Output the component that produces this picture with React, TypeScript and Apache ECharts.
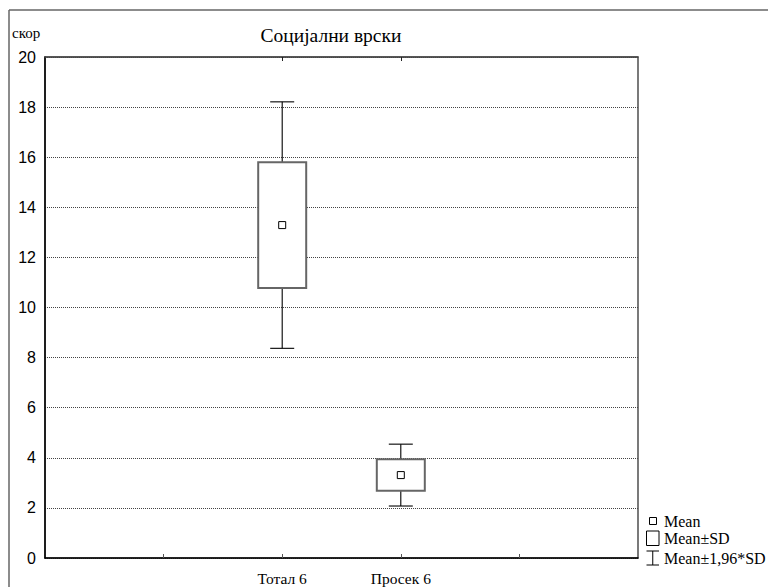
import React, { useEffect, useRef } from "react";
import * as echarts from "echarts";

// Groups shown on the horizontal axis, with their mean and standard deviation.
const categories = ["Тотал 6", "Просек 6"];
const means = [13.29, 3.31];
const sds = [2.51, 0.63];
const yTicks = [0, 2, 4, 6, 8, 10, 12, 14, 16, 18, 20];

const title = "Социјални врски";
const yName = "скор";
const legendLabels = ["Mean", "Mean±SD", "Mean±1,96*SD"];

// Axis slots: two empty slots on each side keep the groups in the middle.
const slots = ["", "", ...categories, "", ""];
const firstSlot = 2;

const SERIF = "'Liberation Serif', 'Times New Roman', serif";
const SANS = "'Liberation Sans', Arial, sans-serif";

export default function App() {
  const ref = useRef<HTMLDivElement>(null);

  useEffect(() => {
    if (!ref.current) return;
    const chart = echarts.init(ref.current, null, { renderer: "svg" });

    const data = categories.map((_, i) => [i + firstSlot, means[i], sds[i]]);

    const renderItem = (params: any, api: any) => {
      const x = api.value(0);
      const m = api.value(1);
      const sd = api.value(2);
      const [cx, cm] = api.coord([x, m]);
      const yTop = api.coord([x, m + sd])[1];
      const yBot = api.coord([x, m - sd])[1];
      const wTop = api.coord([x, m + 1.96 * sd])[1];
      const wBot = api.coord([x, m - 1.96 * sd])[1];
      const boxW = 48;
      const capW = 24;
      const mk = 7;
      const black = { stroke: "#000", lineWidth: 1.1 };
      return {
        type: "group",
        children: [
          { type: "line", shape: { x1: cx, y1: wTop, x2: cx, y2: yTop }, style: black },
          { type: "line", shape: { x1: cx, y1: yBot, x2: cx, y2: wBot }, style: black },
          { type: "line", shape: { x1: cx - capW / 2, y1: wTop, x2: cx + capW / 2, y2: wTop }, style: black },
          { type: "line", shape: { x1: cx - capW / 2, y1: wBot, x2: cx + capW / 2, y2: wBot }, style: black },
          {
            type: "rect",
            shape: { x: cx - boxW / 2, y: yTop, width: boxW, height: yBot - yTop },
            style: { fill: "#fff", stroke: "#666", lineWidth: 2 },
          },
          {
            type: "rect",
            shape: { x: cx - mk / 2, y: cm - mk / 2, width: mk, height: mk },
            style: { fill: "#fff", stroke: "#000", lineWidth: 1 },
          },
        ],
      };
    };

    const lx = 646.5;
    const option: any = {
      animation: false,
      backgroundColor: "#fff",
      title: {
        text: title,
        left: 326,
        top: 20,
        textAlign: "center",
        textStyle: { fontFamily: SERIF, fontSize: 19.5, fontWeight: "normal", color: "#000" },
      },
      grid: {
        left: 45,
        right: 130,
        top: 57,
        bottom: 29,
        show: true,
        borderColor: "#222",
        borderWidth: 1.2,
      },
      xAxis: [
        {
          type: "category",
          data: slots,
          boundaryGap: false,
          position: "bottom",
          axisLine: { show: true, lineStyle: { color: "#000", width: 1.5 } },
          axisTick: {
            show: true,
            inside: true,
            length: 4,
            interval: (i: number) => i > 0 && i < slots.length - 1,
            lineStyle: { color: "#555" },
          },
          axisLabel: {
            interval: 0,
            margin: 12,
            color: "#000",
            fontFamily: SERIF,
            fontSize: 15.5,
          },
          splitLine: { show: false },
        },
        {
          type: "category",
          data: slots,
          boundaryGap: false,
          position: "top",
          axisLine: { show: true, lineStyle: { color: "#444", width: 1.5 } },
          axisTick: {
            show: true,
            inside: true,
            length: 4,
            interval: (_: number, v: string) => v !== "",
            lineStyle: { color: "#222" },
          },
          axisLabel: { show: false },
          splitLine: { show: false },
        },
      ],
      yAxis: {
        type: "value",
        min: yTicks[0],
        max: yTicks[yTicks.length - 1],
        interval: yTicks[1] - yTicks[0],
        axisLine: { show: true, lineStyle: { color: "#000", width: 1.5 } },
        axisTick: { show: false },
        axisLabel: { color: "#000", fontFamily: SANS, fontSize: 16, margin: 9 },
        splitLine: { show: true, lineStyle: { color: "#444", type: [1, 1], width: 1 } },
      },
      series: [
        {
          type: "custom",
          renderItem,
          data,
          xAxisIndex: 0,
          encode: { x: 0, y: [1] },
          z: 5,
        },
      ],
      graphic: [
        { type: "line", shape: { x1: 9, y1: 10, x2: 768, y2: 10 }, style: { stroke: "#666", lineWidth: 1.5 } },
        { type: "line", shape: { x1: 9, y1: 10, x2: 9, y2: 587 }, style: { stroke: "#666", lineWidth: 1.5 } },
        {
          type: "text",
          x: 12,
          y: 33,
          style: { text: yName, fontFamily: SERIF, fontSize: 15, fill: "#000", verticalAlign: "middle" },
        },
        {
          type: "rect",
          shape: { x: 649.5, y: 517.5, width: 7, height: 7 },
          style: { fill: "#fff", stroke: "#000", lineWidth: 1 },
        },
        {
          type: "rect",
          shape: { x: lx, y: 531, width: 12.5, height: 14.5 },
          style: { fill: "#fff", stroke: "#000", lineWidth: 1 },
        },
        { type: "line", shape: { x1: lx, y1: 551, x2: lx + 12.5, y2: 551 }, style: { stroke: "#000", lineWidth: 1 } },
        { type: "line", shape: { x1: lx + 6.25, y1: 551, x2: lx + 6.25, y2: 565 }, style: { stroke: "#000", lineWidth: 1 } },
        { type: "line", shape: { x1: lx, y1: 565, x2: lx + 12.5, y2: 565 }, style: { stroke: "#000", lineWidth: 1 } },
        ...legendLabels.map((t, i) => ({
          type: "text",
          x: 664,
          y: [521, 538.5, 558][i],
          style: { text: t, fontFamily: SERIF, fontSize: 16, fill: "#000", verticalAlign: "middle" },
        })),
      ],
    };

    chart.setOption(option);
    return () => chart.dispose();
  }, []);

  return (
    <div
      ref={ref}
      style={{ position: "absolute", left: 0, top: 0, width: 768, height: 587, background: "#fff" }}
    />
  );
}
